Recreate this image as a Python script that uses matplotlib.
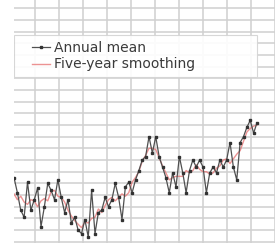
import numpy as np
import matplotlib
matplotlib.use("Agg")
from matplotlib import pyplot as plt
from matplotlib.patches import Rectangle

# annual anomaly values, one per year
years = np.arange(1880, 1953)
annual = [-0.25, -0.38, -0.53, -0.59, -0.29, -0.53, -0.44, -0.34, -0.67, -0.50,
          -0.30, -0.36, -0.44, -0.27, -0.42, -0.55, -0.44, -0.64, -0.59, -0.70,
          -0.73, -0.61, -0.76, -0.36, -0.73, -0.55, -0.53, -0.42, -0.50, -0.44,
          -0.30, -0.42, -0.61, -0.33, -0.29, -0.38, -0.27, -0.19, -0.10, -0.07,
          0.10, -0.04, 0.10, -0.07, -0.16, -0.25, -0.38, -0.21, -0.33, -0.07,
          -0.21, -0.38, -0.19, -0.10, -0.16, -0.10, -0.16, -0.38, -0.21, -0.16,
          -0.21, -0.10, -0.16, -0.10, 0.05, -0.16, -0.27, 0.05, 0.10, 0.18,
          0.24, 0.13, 0.22]
smooth = [-0.39, -0.44, -0.41, -0.46, -0.48, -0.44, -0.45, -0.50, -0.45, -0.43,
          -0.45, -0.37, -0.36, -0.41, -0.42, -0.46, -0.53, -0.58, -0.62, -0.65,
          -0.68, -0.63, -0.64, -0.60, -0.59, -0.52, -0.55, -0.49, -0.44, -0.42,
          -0.45, -0.42, -0.39, -0.41, -0.38, -0.29, -0.25, -0.20, -0.11, -0.06,
          0.00, 0.00, -0.01, -0.08, -0.15, -0.21, -0.27, -0.25, -0.24, -0.24,
          -0.24, -0.19, -0.21, -0.19, -0.14, -0.18, -0.20, -0.20, -0.22, -0.21,
          -0.17, -0.15, -0.10, -0.09, -0.13, -0.09, -0.05, -0.02, 0.06, 0.14,
          0.17, 0.19, 0.20]
labels = ['Annual mean', 'Five-year smoothing']

fig = plt.figure(figsize=(2.75, 2.43), dpi=100)
ax = fig.add_axes([14 / 275, 0, 1 - 14 / 275, 1])

l_smooth, = ax.plot(years, smooth, color='#e87878', linewidth=1.0, alpha=0.8,
                    zorder=2)
l_annual, = ax.plot(years, annual, color='#505050', linewidth=0.9, marker='s',
                    markersize=2.0, markerfacecolor='#333333',
                    markeredgecolor='#333333', zorder=3)

ax.set_xlim(1880, 1880 + 261 / 3.375)
ax.set_ylim(-0.811, 1.271)
ax.set_xticks(np.arange(1880 + 21 / 3.375, 1958, 24 / 3.375))
ax.set_yticks(np.arange(-0.8, 1.3, 0.1))
ax.grid(True, color='#d0d0d0', linewidth=1.1)
ax.set_axisbelow(True)
ax.tick_params(length=0, labelbottom=False, labelleft=False)
for s in ax.spines.values():
    s.set_visible(False)

# legend box drawn by hand, legend itself without frame
box = Rectangle((0, 1 - 77 / 243), 243 / 261, 42 / 243, transform=ax.transAxes,
                facecolor='white', edgecolor='#d4d4d4', linewidth=0.8,
                alpha=0.92, zorder=4)
ax.add_patch(box)
leg = ax.legend([l_annual, l_smooth], labels, loc='center left',
                bbox_to_anchor=(18 / 261, 1 - 56 / 243), frameon=False,
                prop={'family': 'DejaVu Sans', 'size': 10},
                handlelength=1.3, handletextpad=0.25, labelspacing=0.2,
                borderpad=0, borderaxespad=0)
leg.set_zorder(5)
for t in leg.get_texts():
    t.set_color('#3a3a3a')

fig.savefig('out.png', dpi=100)
